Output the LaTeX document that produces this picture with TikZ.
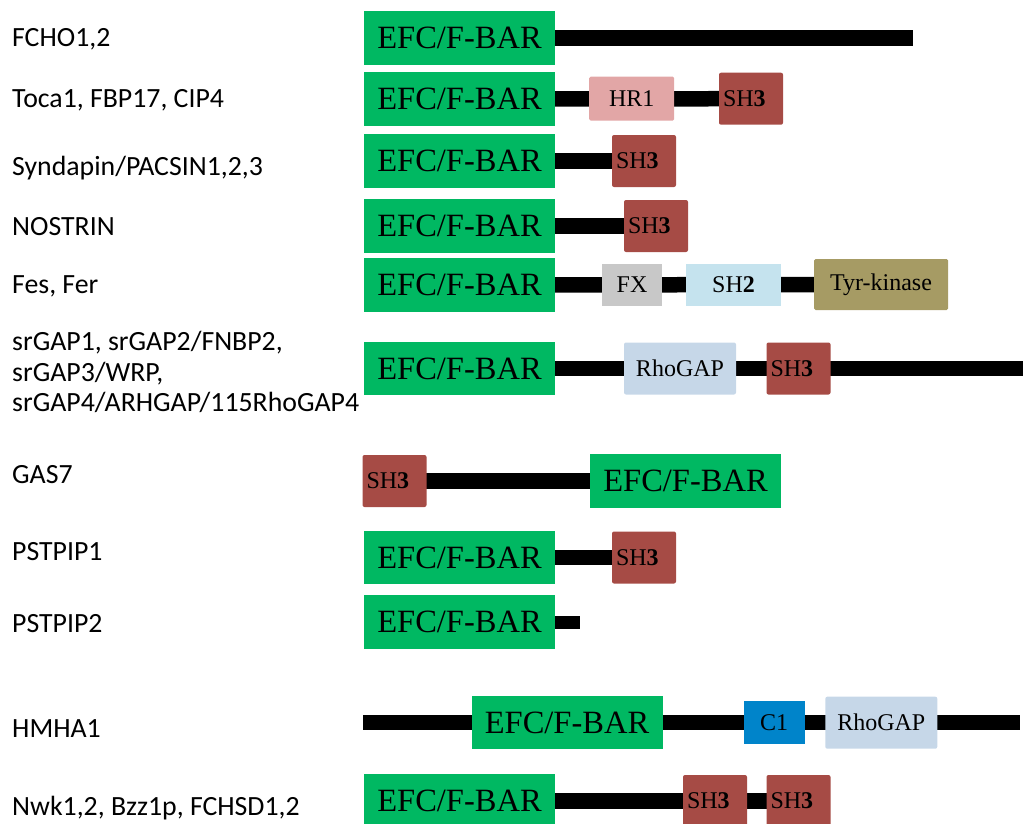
\documentclass[tikz,border=0pt]{standalone}
\usepackage{fontspec}
\setmainfont{Liberation Serif}
\newfontfamily\labfont{Carlito}
\usetikzlibrary{backgrounds}
\definecolor{cEFC}{HTML}{00B862}
\definecolor{cSH3}{HTML}{A64B45}
\definecolor{cHR1}{HTML}{E2A6A6}
\definecolor{cFX}{HTML}{C8C8C8}
\definecolor{cSH2}{HTML}{C5E3EE}
\definecolor{cTyr}{HTML}{A69B64}
\definecolor{cGAP}{HTML}{C6D7E8}
\definecolor{cCone}{HTML}{0084CA}
\begin{document}
\begin{tikzpicture}[x=1pt,y=-1pt,
  lab/.style={font=\labfont\fontsize{27.8}{30.5}\selectfont, inner sep=0pt, anchor=base west, align=left},
  dom/.style={inner sep=0pt, font=\fontsize{24}{26}\selectfont, text=black},
  efc/.style={dom, fill=cEFC, minimum width=191, minimum height=53.5, font=\fontsize{32.5}{34}\selectfont},
  shbox/.style={dom, fill=cSH3, rounded corners=2, minimum width=64, minimum height=52, inner xsep=4, text width=56, align=left},
  hrbox/.style={dom, fill=cHR1, rounded corners=1.5, minimum width=85, minimum height=44},
  fxbox/.style={dom, fill=cFX, minimum width=60, minimum height=42},
  shtwo/.style={dom, fill=cSH2, minimum width=95, minimum height=42},
  tyrbox/.style={dom, fill=cTyr, rounded corners=1.5, minimum width=134, minimum height=51},
  gapbox/.style={dom, fill=cGAP, rounded corners=2, minimum width=112, minimum height=52},
  conebox/.style={dom, fill=cCone, minimum width=61, minimum height=43.5},
  bb/.style={line width=15.5},
]
\useasboundingbox (0,0) rectangle (1023,823);

% labels
\node[lab] (l1) at (12,46.5) {FCHO1,2};
\node[lab] (l2) at (12,107) {Toca1, FBP17, CIP4};
\node[lab] (l3) at (12,175) {Syndapin/PACSIN1,2,3};
\node[lab] (l4) at (12,235) {NOSTRIN};
\node[lab] (l5) at (12,293) {Fes, Fer};
\node[lab] (l6) at (12,411.5) {srGAP1, srGAP2/FNBP2,\\srGAP3/WRP,\\srGAP4/ARHGAP/115RhoGAP4};
\node[lab] (l7) at (12,483) {GAS7};
\node[lab] (l8) at (12,560) {PSTPIP1};
\node[lab] (l9) at (12,632) {PSTPIP2};
\node[lab] (l10) at (12,737) {HMHA1};
\node[lab] (l11) at (12,815) {Nwk1,2, Bzz1p, FCHSD1,2};

% row 1
\node[efc] (g1) at (459.5,38) {EFC/F-BAR};
\coordinate (e1) at (913,38);
% row 2
\node[efc] (g2) at (459.5,99) {EFC/F-BAR};
\node[hrbox] (hr2) at (631.7,98.7) {HR1};
\node[shbox] (s2) at (751,98.7) {SH\textbf{3}};
% row 3
\node[efc] (g3) at (459.5,161) {EFC/F-BAR};
\node[shbox] (s3) at (644,161) {SH\textbf{3}};
% row 4
\node[efc] (g4) at (459.5,226) {EFC/F-BAR};
\node[shbox] (s4) at (656,226) {SH\textbf{3}};
% row 5
\node[efc] (g5) at (459.5,285) {EFC/F-BAR};
\node[fxbox] (fx5) at (632,285) {FX};
\node[shtwo] (sh5) at (733.5,285) {SH\textbf{2}};
\node[tyrbox] (ty5) at (881,284.5) {Tyr-kinase};
% row 6
\node[efc] (g6) at (459.5,368.5) {EFC/F-BAR};
\node[gapbox] (gp6) at (680,368.5) {RhoGAP};
\node[shbox] (s6) at (798.5,368.5) {SH\textbf{3}};
\coordinate (e6) at (1026,368.5);
% row 7
\node[shbox] (s7) at (394.5,481) {SH\textbf{3}};
\node[efc] (g7) at (685.5,481) {EFC/F-BAR};
% row 8
\node[efc] (g8) at (459.5,557.5) {EFC/F-BAR};
\node[shbox] (s8) at (644,557.5) {SH\textbf{3}};
% row 9
\node[efc] (g9) at (459.5,622) {EFC/F-BAR};
\coordinate (e9) at (580,622);
% row 10
\coordinate (h0) at (363,722.7);
\node[efc] (g10) at (567,722.7) {EFC/F-BAR};
\node[conebox] (c10) at (774,722.7) {C1};
\node[gapbox] (gp10) at (881.3,722.7) {RhoGAP};
\coordinate (h1) at (1020,722.7);
% row 11
\node[efc] (g11) at (459.5,801) {EFC/F-BAR};
\node[shbox] (s11a) at (715,801) {SH\textbf{3}};
\node[shbox] (s11b) at (798.5,801) {SH\textbf{3}};

\begin{scope}[on background layer]
  \draw[bb] (g1.center) -- (e1);
  \draw[bb] (g2.center) -- (s2.center);
  \draw[bb] (g3.center) -- (s3.center);
  \draw[bb] (g4.center) -- (s4.center);
  \draw[bb] (g5.center) -- (ty5.center);
  \draw[bb] (g6.center) -- (e6);
  \draw[bb] (s7.center) -- (g7.center);
  \draw[bb] (g8.center) -- (s8.center);
  \draw[line width=13] (g9.center) -- (e9);
  \draw[bb] (h0) -- (h1);
  \draw[bb] (g11.center) -- (s11b.center);
\end{scope}
\end{tikzpicture}
\end{document}
